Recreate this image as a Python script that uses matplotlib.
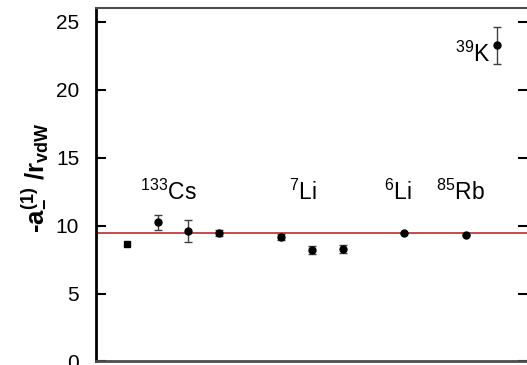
import matplotlib
matplotlib.use("Agg")
import matplotlib.pyplot as plt

plt.rcParams["font.family"] = ["Liberation Sans", "DejaVu Sans"]
plt.rcParams["mathtext.default"] = "regular"

# data (x = position index along the axis)
sq_x = [1]
sq_y = [8.62]
pt_x = [2, 3, 4, 6, 7, 8, 10, 12, 13]
pt_y = [10.25, 9.6, 9.45, 9.15, 8.18, 8.28, 9.42, 9.28, 23.25]
pt_err = [0.55, 0.8, 0.25, 0.2, 0.3, 0.3, 0.0, 0.0, 1.35]
mean_val = 9.45

labels = [r"$^{133}$Cs", r"$^{7}$Li", r"$^{6}$Li", r"$^{85}$Rb", r"$^{39}$K"]
label_x = [2.35, 6.71, 9.8, 11.82, 12.78]
label_y = [11.85, 11.85, 11.85, 11.85, 22.0]
label_ha = ["center", "center", "center", "center", "right"]

fig = plt.figure(figsize=(5.27, 3.65), dpi=100)
ax = fig.add_axes([0.182, 0.0096, 0.8197, 0.9685])

ax.axhline(mean_val, color="#c44a4a", lw=1.4, zorder=1)
ax.plot(sq_x, sq_y, "s", color="black", ms=5, zorder=3)
ax.errorbar(pt_x, pt_y, yerr=pt_err, fmt="o", color="black", ms=5,
            ecolor="0.25", elinewidth=1, capsize=3, capthick=1, zorder=3)

for t, x, y, ha in zip(labels, label_x, label_y, label_ha):
    ax.text(x, y, t, fontsize=16.5, ha=ha, va="baseline")

ax.set_xlim(0, 14)
ax.set_ylim(0, 26)
ax.set_yticks([0, 5, 10, 15, 20, 25])
ax.set_xticks([])
ax.tick_params(axis="y", direction="in", length=7, width=1.5,
               labelsize=15, right=True, pad=12)
ax.set_ylabel(r"-a$_{-}^{(1)}$ /r$_{vdW}$", fontsize=18.5, fontweight="bold")
ax.yaxis.set_label_coords(-0.112, 0.52)

for s in ["left", "bottom"]:
    ax.spines[s].set_linewidth(2)
ax.spines["bottom"].set_color("0.3")
ax.spines["top"].set_linewidth(1.5)
ax.spines["top"].set_color("0.3")

fig.savefig("out.png", dpi=100)
